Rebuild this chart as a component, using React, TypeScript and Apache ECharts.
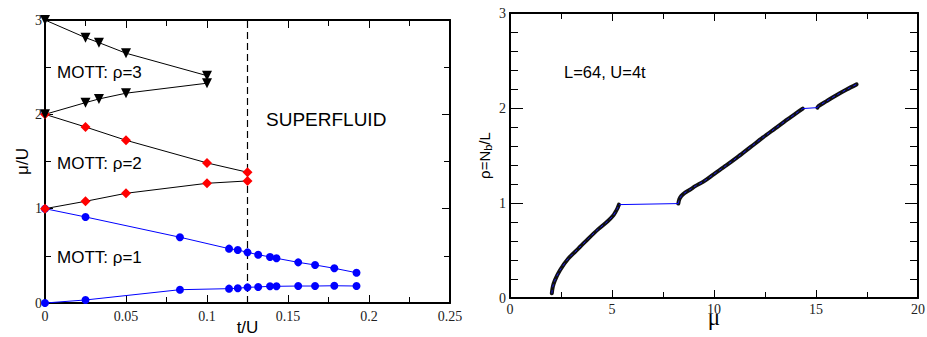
import React, { useEffect, useRef } from "react";
import * as echarts from "echarts";

// ---------- Left panel: phase diagram (t/U, mu/U) ----------
const rho1UpperT = [0, 0.025, 0.0833, 0.1136, 0.119, 0.125, 0.1316, 0.1389, 0.1429, 0.1563, 0.1667, 0.1786, 0.1923];
const rho1UpperMu = [1, 0.912, 0.697, 0.576, 0.562, 0.537, 0.512, 0.488, 0.474, 0.431, 0.403, 0.368, 0.321];
const rho1LowerT = [0, 0.025, 0.0833, 0.1136, 0.119, 0.125, 0.1316, 0.1389, 0.1429, 0.1563, 0.1667, 0.1786, 0.1923];
const rho1LowerMu = [0, 0.032, 0.141, 0.152, 0.156, 0.166, 0.17, 0.177, 0.177, 0.18, 0.18, 0.183, 0.18];

const rho2UpperT = [0, 0.025, 0.05, 0.1, 0.125];
const rho2UpperMu = [2, 1.866, 1.725, 1.485, 1.386];
const rho2LowerT = [0, 0.025, 0.05, 0.1, 0.125];
const rho2LowerMu = [1, 1.078, 1.163, 1.269, 1.294];

const rho3UpperT = [0, 0.025, 0.0333, 0.05, 0.1];
const rho3UpperMu = [3, 2.813, 2.76, 2.648, 2.41];
const rho3LowerT = [0, 0.025, 0.0333, 0.05, 0.1];
const rho3LowerMu = [2, 2.124, 2.163, 2.224, 2.33];

const criticalT = 0.125;
const muRange = [0, 3];

// ---------- Right panel: density vs mu ----------
const seg1Mu = [2.05, 2.1, 2.2, 2.45, 2.86, 3.35, 3.84, 4.33, 4.8, 5.05, 5.17, 5.27, 5.34];
const seg1Rho = [0.05, 0.12, 0.186, 0.292, 0.415, 0.52, 0.625, 0.725, 0.81, 0.865, 0.905, 0.945, 0.983];
const seg2Mu = [8.25, 8.3, 8.4, 8.55, 8.82, 9.1, 9.48, 10.0, 10.6, 11.2, 11.8, 12.4, 13.0, 13.6, 14.0, 14.35];
const seg2Rho = [0.994, 1.04, 1.075, 1.105, 1.14, 1.18, 1.225, 1.305, 1.395, 1.49, 1.59, 1.69, 1.785, 1.88, 1.94, 1.994];
const seg3Mu = [15.07, 15.12, 15.5, 16.0, 16.5, 16.99];
const seg3Rho = [2.004, 2.02, 2.07, 2.135, 2.195, 2.249];

const zip = (a: number[], b: number[]) => a.map((v, i) => [v, b[i]]);

const SANS = "'Liberation Sans', Arial, Helvetica, sans-serif";
const SERIF = "'Liberation Serif', 'Times New Roman', serif";

function makeAxis(o: any) {
  return {
    type: "value",
    gridIndex: o.grid,
    position: o.position,
    min: o.min,
    max: o.max,
    interval: o.interval,
    name: o.name,
    nameLocation: "middle",
    nameGap: o.nameGap,
    nameRotate: o.nameRotate,
    nameMoveOverlap: false,
    nameTextStyle: o.nameTextStyle,
    axisLine: { show: true, onZero: false, lineStyle: { color: "#000", width: 2 } },
    axisTick: { show: true, inside: true, length: o.tickLen ?? 8, lineStyle: { color: "#000", width: 1 } },
    minorTick: { show: true, splitNumber: o.minor, length: o.minorLen ?? 6, lineStyle: { color: "#000", width: 1 } },
    splitLine: { show: false },
    minorSplitLine: { show: false },
    axisLabel: o.labels
      ? { show: true, color: "#222", fontFamily: SERIF, fontSize: 14, margin: o.labelMargin ?? 4 }
      : { show: false },
  };
}

export default function App() {
  const ref = useRef<HTMLDivElement>(null);
  useEffect(() => {
    const chart = echarts.init(ref.current!, null, { renderer: "svg" });
    const lineSeries = (data: number[][], color: string, lineColor: string, symbol: string, size: number, x: number, rotate = 0) => ({
      type: "line",
      xAxisIndex: x,
      yAxisIndex: x,
      data,
      symbol,
      symbolSize: size,
      symbolRotate: rotate,
      itemStyle: { color },
      lineStyle: { color: lineColor, width: 1 },
      silent: true,
    });
    const option: any = {
      animation: false,
      grid: [
        { left: 45, top: 20, width: 405, height: 283, outerBoundsMode: "none", containLabel: false },
        { left: 510, top: 13, width: 408, height: 285, outerBoundsMode: "none", containLabel: false },
      ],
      xAxis: [
        makeAxis({ grid: 0, position: "bottom", min: 0, max: 0.25, interval: 0.05, minor: 2, labels: true, labelMargin: 6,
          name: "t/U", nameGap: 16, nameTextStyle: { fontFamily: SANS, fontSize: 17, color: "#000", lineHeight: 17 } }),
        makeAxis({ grid: 0, position: "top", min: 0, max: 0.25, interval: 0.05, minor: 2, labels: false }),
        makeAxis({ grid: 1, position: "bottom", min: 0, max: 20, interval: 5, minor: 2, labels: true, labelMargin: 4,
          name: "μ", nameGap: 8, nameTextStyle: { fontFamily: SERIF, fontSize: 23, color: "#000", lineHeight: 22 } }),
        makeAxis({ grid: 1, position: "top", min: 0, max: 20, interval: 5, minor: 2, labels: false }),
      ],
      yAxis: [
        makeAxis({ grid: 0, position: "left", min: 0, max: 3, interval: 1, minor: 2, labels: true, labelMargin: 3,
          name: "μ/U", nameGap: 14, nameRotate: 90, nameTextStyle: { fontFamily: SANS, fontSize: 17, color: "#000" } }),
        makeAxis({ grid: 0, position: "right", min: 0, max: 3, interval: 1, minor: 2, labels: false }),
        makeAxis({ grid: 1, position: "left", min: 0, max: 3, interval: 1, minor: 5, labels: true, labelMargin: 4,
          tickLen: 13, minorLen: 8,
          name: "{a|ρ=N}{s|b}{a|/L}", nameGap: 17, nameRotate: 90,
          nameTextStyle: { rich: { a: { fontFamily: SANS, fontSize: 15, color: "#000" }, s: { fontFamily: SANS, fontSize: 11, color: "#000", padding: [6, 0, 0, 0] } } } }),
        makeAxis({ grid: 1, position: "right", min: 0, max: 3, interval: 1, minor: 5, labels: false, tickLen: 13, minorLen: 8 }),
      ],
      series: [
        {
          type: "line",
          xAxisIndex: 0,
          yAxisIndex: 0,
          data: muRange.map((m) => [criticalT, m]),
          symbol: "none",
          lineStyle: { color: "#000", type: [7, 4], width: 1.2 },
          silent: true,
        },
        lineSeries(zip(rho1UpperT, rho1UpperMu), "#0000ff", "#0000ff", "circle", 8, 0),
        lineSeries(zip(rho1LowerT, rho1LowerMu), "#0000ff", "#0000ff", "circle", 8, 0),
        lineSeries(zip(rho2UpperT, rho2UpperMu), "#ff0000", "#000", "diamond", 10, 0),
        lineSeries(zip(rho2LowerT, rho2LowerMu), "#ff0000", "#000", "diamond", 10, 0),
        lineSeries(zip(rho3UpperT, rho3UpperMu), "#000", "#000", "triangle", 10, 0, 180),
        lineSeries(zip(rho3LowerT, rho3LowerMu), "#000", "#000", "triangle", 10, 0, 180),
        ...[zip(seg1Mu, seg1Rho), zip(seg2Mu, seg2Rho), zip(seg3Mu, seg3Rho)].map((d) => ({
          type: "line",
          xAxisIndex: 2,
          yAxisIndex: 2,
          data: d,
          symbol: "none",
          smooth: 0.3,
          lineStyle: { color: "#111", width: 4, cap: "round", join: "round" },
          silent: true,
        })),
        ...[zip(seg1Mu, seg1Rho), zip(seg2Mu, seg2Rho), zip(seg3Mu, seg3Rho)].map((d) => ({
          type: "line",
          xAxisIndex: 2,
          yAxisIndex: 2,
          data: d,
          symbol: "none",
          smooth: 0.3,
          lineStyle: { color: "#1a1aff", width: 1, type: [3, 3] },
          silent: true,
        })),
        {
          type: "line",
          xAxisIndex: 2,
          yAxisIndex: 2,
          data: [[seg1Mu[seg1Mu.length - 1], seg1Rho[seg1Rho.length - 1]], [seg2Mu[0], seg2Rho[0]], null, [seg2Mu[seg2Mu.length - 1], seg2Rho[seg2Rho.length - 1]], [seg3Mu[0], seg3Rho[0]]],
          symbol: "none",
          connectNulls: false,
          lineStyle: { color: "#0000ff", width: 1 },
          silent: true,
        },
      ],
      graphic: [
        { type: "text", x: 57, y: 72, style: { text: "MOTT: ρ=3", font: `17px ${SANS}`, fill: "#000", verticalAlign: "middle" } },
        { type: "text", x: 57, y: 163, style: { text: "MOTT: ρ=2", font: `17px ${SANS}`, fill: "#000", verticalAlign: "middle" } },
        { type: "text", x: 57, y: 257, style: { text: "MOTT: ρ=1", font: `17px ${SANS}`, fill: "#000", verticalAlign: "middle" } },
        { type: "text", x: 266, y: 119, style: { text: "SUPERFLUID", font: `19px ${SANS}`, fill: "#000", verticalAlign: "middle" } },
        { type: "text", x: 564, y: 72, style: { text: "L=64, U=4t", font: `16.5px ${SANS}`, fill: "#000", verticalAlign: "middle" } },
      ],
    };
    chart.setOption(option);
    return () => chart.dispose();
  }, []);
  return (
    <div
      ref={ref}
      style={{ position: "absolute", left: 0, top: 0, width: 927, height: 337, background: "#fff" }}
    />
  );
}
